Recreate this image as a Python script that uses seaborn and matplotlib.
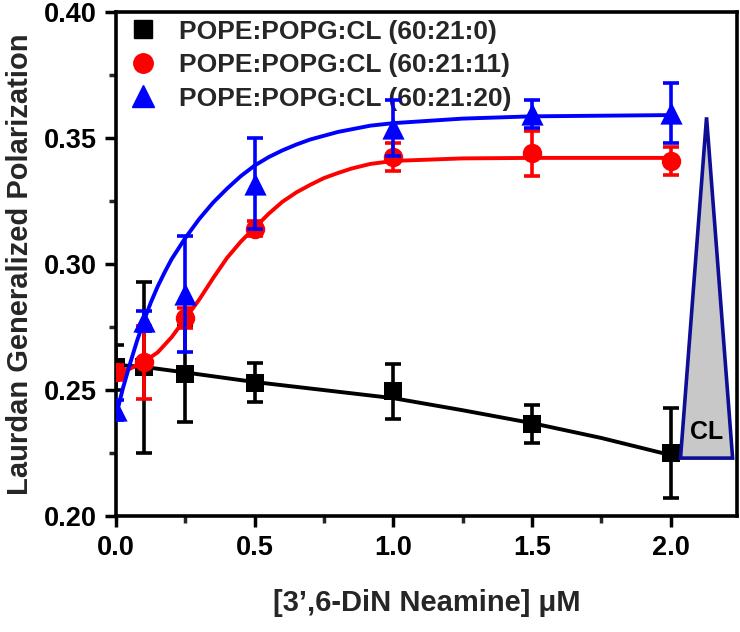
import matplotlib
matplotlib.use("Agg")
import matplotlib.pyplot as plt
import seaborn as sns
import pandas as pd
from matplotlib.lines import Line2D
from matplotlib.patches import Polygon
from matplotlib.ticker import MultipleLocator, FormatStrFormatter

sns.set_theme(style="ticks")
plt.rcParams['font.family'] = ['Liberation Sans', 'DejaVu Sans']
plt.rcParams['font.weight'] = 'bold'
plt.rcParams['axes.labelweight'] = 'bold'

# ---------------- data ----------------
labels = ["POPE:POPG:CL (60:21:0)", "POPE:POPG:CL (60:21:11)", "POPE:POPG:CL (60:21:20)"]
colors = ["#000000", "#ff0000", "#0000ff"]
markers = ["s", "o", "^"]
marker_sizes = [13, 14, 16]

conc = [0.0, 0.1, 0.25, 0.5, 1.0, 1.5, 2.0]

gp_cl0 = [0.259, 0.259, 0.2563, 0.2530, 0.2495, 0.2365, 0.2250]
err_cl0 = [0.009, 0.034, 0.019, 0.0077, 0.0110, 0.0075, 0.0180]

gp_cl11 = [0.257, 0.261, 0.2786, 0.3140, 0.3425, 0.3440, 0.3410]
err_cl11 = [0.003, 0.0146, 0.004, 0.003, 0.0055, 0.0090, 0.0055]

gp_cl20 = [0.242, 0.2775, 0.2880, 0.3320, 0.3540, 0.3595, 0.3600]
err_cl20 = [0.004, 0.004, 0.0230, 0.0180, 0.0110, 0.0055, 0.0120]

# fitted curves
fit_x_cl0 = [0.0, 0.1, 0.25, 0.5, 0.75, 1.0, 1.25, 1.5, 1.75, 2.0]
fit_y_cl0 = [0.2600, 0.2592, 0.2570, 0.2532, 0.2500, 0.2468, 0.2420, 0.2369, 0.2310, 0.2242]

fit_x_cl11 = [0.0, 0.05, 0.1, 0.15, 0.2, 0.25, 0.3, 0.35, 0.4, 0.45, 0.5, 0.55, 0.6, 0.65, 0.7, 0.75,
              0.8, 0.85, 0.917, 1.0, 1.25, 1.5, 2.0]
fit_y_cl11 = [0.2565, 0.2585, 0.2612, 0.2650, 0.2710, 0.2785, 0.2860, 0.2945, 0.3025, 0.3090, 0.3145,
              0.3200, 0.3248, 0.3285, 0.3315, 0.3342, 0.3362, 0.3380, 0.3398, 0.3410, 0.3420, 0.3422, 0.3422]

fit_x_cl20 = [0.0, 0.025, 0.05, 0.075, 0.1, 0.125, 0.15, 0.175, 0.2, 0.25, 0.3, 0.35, 0.4, 0.45, 0.5,
              0.55, 0.6, 0.65, 0.7, 0.8, 0.917, 1.0, 1.25, 1.5, 2.0]
fit_y_cl20 = [0.2400, 0.2510, 0.2605, 0.2695, 0.2775, 0.2848, 0.2912, 0.2968, 0.3020, 0.3105, 0.3180,
              0.3245, 0.3300, 0.3350, 0.3392, 0.3425, 0.3452, 0.3475, 0.3495, 0.3525, 0.3550, 0.3560,
              0.3578, 0.3587, 0.3592]

# CL wedge annotation
cl_x = [2.036, 2.224, 2.130]
cl_y = [0.2230, 0.2230, 0.3583]
cl_text_pos = (2.13, 0.2333)

x_ticks = [0.0, 0.5, 1.0, 1.5, 2.0]
y_ticks = [0.20, 0.25, 0.30, 0.35, 0.40]

# ---------------- figure ----------------
fig = plt.figure(figsize=(7.4, 6.32), dpi=100)
ax = fig.add_axes([0.157, 0.1835, 0.839, 0.797])

series = [
    (gp_cl0, err_cl0, fit_x_cl0, fit_y_cl0),
    (gp_cl11, err_cl11, fit_x_cl11, fit_y_cl11),
    (gp_cl20, err_cl20, fit_x_cl20, fit_y_cl20),
]

for i, (gp, err, fx, fy) in enumerate(series):
    z = 3 + 3 * i
    sns.lineplot(x=fx, y=fy, color=colors[i], linewidth=2.8, estimator=None,
                 ax=ax, legend=False, zorder=z)
    ax.errorbar(conc, gp, yerr=err, fmt='none', ecolor=colors[i], elinewidth=2.6,
                capsize=6, capthick=2.6, zorder=z + 1)
    df = pd.DataFrame({"x": conc, "y": gp})
    sns.scatterplot(data=df, x="x", y="y", marker=markers[i], s=marker_sizes[i] ** 2,
                    color=colors[i], edgecolor=colors[i], linewidth=0, ax=ax,
                    legend=False, zorder=z + 2)

# CL wedge
wedge = Polygon(list(zip(cl_x, cl_y)), closed=True, facecolor="#c8c8c8",
                edgecolor="#0d0d96", linewidth=2.6, zorder=12)
ax.add_patch(wedge)
ax.text(cl_text_pos[0], cl_text_pos[1], "CL", ha="center", va="center",
        fontsize=18, fontweight="bold", color="black", zorder=13)

ax.set_xlim(0, 2.24)
ax.set_ylim(0.20, 0.40)
ax.set_xticks(x_ticks)
ax.set_yticks(y_ticks)
ax.xaxis.set_major_formatter(FormatStrFormatter('%.1f'))
ax.yaxis.set_major_formatter(FormatStrFormatter('%.2f'))
ax.xaxis.set_minor_locator(MultipleLocator(0.25))
ax.yaxis.set_minor_locator(MultipleLocator(0.025))

ax.tick_params(which='major', direction='out', length=8, width=2.5, labelsize=19.5,
               pad=6, colors='black', top=False, right=False)
ax.tick_params(which='minor', direction='out', length=5, width=2.5,
               top=False, right=False)
for lab in ax.get_xticklabels() + ax.get_yticklabels():
    lab.set_fontweight('bold')

for sp in ax.spines.values():
    sp.set_linewidth(2.6)
    sp.set_color('black')

ax.set_xlabel("[3\u2019,6-DiN Neamine] \u03bcM", fontsize=21, fontweight='bold', labelpad=20)
ax.set_ylabel("Laurdan Generalized Polarization", fontsize=21, fontweight='bold', labelpad=7)
ax.grid(False)

handles = [Line2D([], [], marker=markers[i], color=colors[i], linestyle='none',
                  markersize=marker_sizes[i]) for i in range(3)]
leg = ax.legend(handles, labels, loc='upper left', bbox_to_anchor=(0, 1),
                frameon=False, fontsize=19, handlelength=1.5, handletextpad=0.6,
                borderaxespad=0.0, borderpad=0.28, labelspacing=0.36)
for t in leg.get_texts():
    t.set_fontweight('bold')

fig.savefig("out.png", dpi=100)
